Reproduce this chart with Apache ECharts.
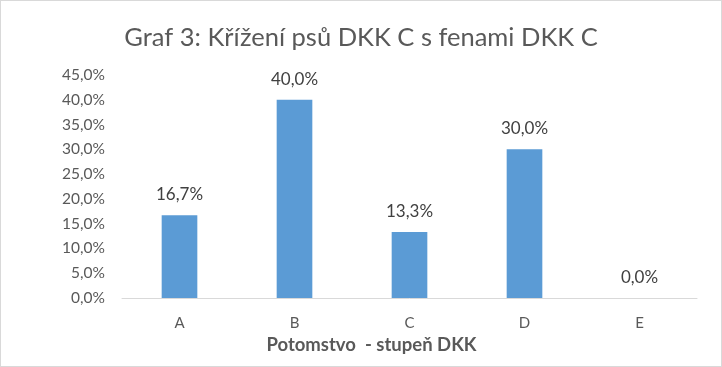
<!DOCTYPE html>
<html><head><meta charset="utf-8">
<script src="https://cdn.jsdelivr.net/npm/echarts@6/dist/echarts.min.js"></script>
<style>
html,body{margin:0;padding:0;background:#fff;}
#c{width:720px;height:365px;border:1px solid #d9d9d9;}
</style></head>
<body><div id="c"></div>
<script>
const categories = ['A','B','C','D','E'];
const values = [16.7, 40.0, 13.3, 30.0, 0.0];
const title = 'Graf 3: Křížení psů DKK C s fenami DKK C';
const xName = 'Potomstvo  - stupeň DKK';
const fmt = v => v.toFixed(1).replace('.', ',') + '%';
const chart = echarts.init(document.getElementById('c'));
chart.setOption({
  animation:false,
  title:{text:title,left:'center',top:19,textStyle:{fontFamily:'Lato',fontSize:25.5,fontWeight:'normal',color:'#595959'}},
  grid:{left:121,right:24,top:74,bottom:68},
  xAxis:{type:'category',data:categories,
    axisLine:{lineStyle:{color:'#d9d9d9'}},axisTick:{show:false},
    axisLabel:{color:'#595959',fontFamily:'Lato',fontSize:15,margin:18},
    name:xName,nameLocation:'middle',nameGap:38,
    nameTextStyle:{color:'#595959',fontFamily:'Lato',fontSize:18.5,fontWeight:'bold',padding:[0,76,0,0]}},
  yAxis:{type:'value',min:0,max:45,interval:5,
    splitLine:{show:false},axisLine:{show:false},axisTick:{show:false},
    axisLabel:{color:'#595959',fontFamily:'Lato',fontSize:15.5,margin:17,formatter:v=>fmt(v)}},
  series:[{type:'bar',data:values,barWidth:'31%',itemStyle:{color:'#5b9bd5'},
    label:{show:true,position:'top',distance:12,color:'#404040',fontFamily:'Lato',fontSize:17,formatter:p=>fmt(p.value)}}]
});
</script></body></html>
